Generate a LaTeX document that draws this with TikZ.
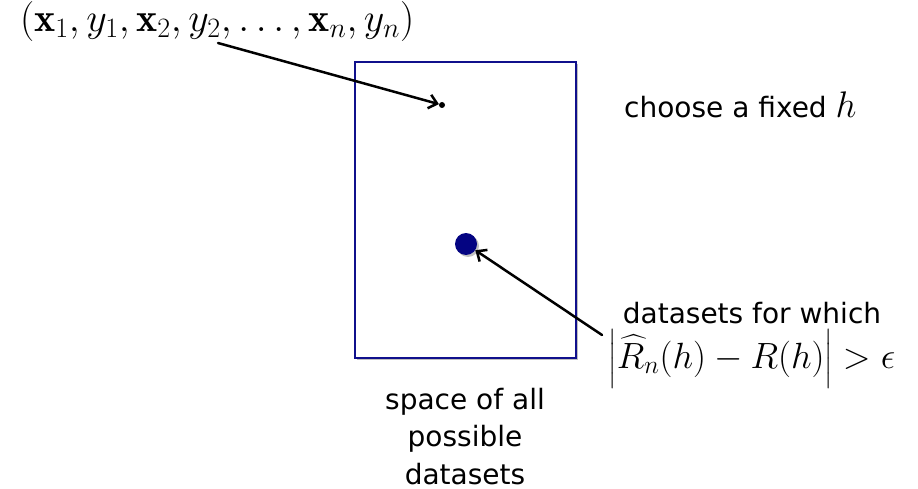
\RequirePackage{fix-cm}
\documentclass[tikz,border=0pt]{standalone}
\usepackage{amsmath}
\usepackage{fontspec}
\setsansfont{DejaVu Sans}
\usetikzlibrary{arrows.meta,shadows}
\definecolor{navy}{RGB}{16,16,140}
\definecolor{blobblue}{RGB}{4,4,130}
\begin{document}
\begin{tikzpicture}[x=1pt,y=-1pt,
  lbl/.style={font=\fontsize{28}{37.5}\selectfont\sffamily, inner sep=0pt},
  mth/.style={font=\fontsize{36.5}{44}\selectfont, inner sep=0pt},
  soft/.style={drop shadow={shadow xshift=2pt, shadow yshift=-2pt, opacity=0.25, fill=black}},
  conn/.style={line width=2.5pt, line cap=round,
    -{Straight Barb[length=8pt,width=14pt,line width=2.5pt]}}]
\useasboundingbox (0,0) rectangle (918,489);
% space of datasets
\node[draw=navy, fill=white, line width=2pt, minimum width=221pt, minimum height=296pt,
      inner sep=0pt, soft] (space) at (465.5,210) {};
% tuple
\node[mth, font=\fontsize{40}{48}\selectfont, anchor=base west] (tuple) at (20,32)
  {$(\mathbf{x}_1, y_1, \mathbf{x}_2, y_2, \ldots, \mathbf{x}_n, y_n)$};
\coordinate (s1) at (218,43);
\node[circle, fill=black, inner sep=0pt, minimum size=6pt] (pt) at (442,105) {};
\node[circle, fill=blobblue, inner sep=0pt, minimum size=22pt, soft] (blob) at (466,244) {};
\coordinate (s2) at (602,335);
\draw[conn] (s1) -- (pt);
\draw[conn] (s2) -- (blob);
% labels
\node[lbl, anchor=base west] (choose) at (624,118)
  {choose a fixed {\fontsize{37}{44}\selectfont$h$}};
\node[lbl, anchor=base] (which) at (752,323) {datasets for which};
\node[mth, anchor=base] (ineq) at (752,368)
  {$\left|\vrule width 0pt height 1.0em depth 0.5em\widehat{R}_n(h) - R(h)\right| > \epsilon$};
\node[lbl, anchor=base, align=center] (caption) at (465,484)
  {space of all\\possible\\datasets};
\end{tikzpicture}
\end{document}
